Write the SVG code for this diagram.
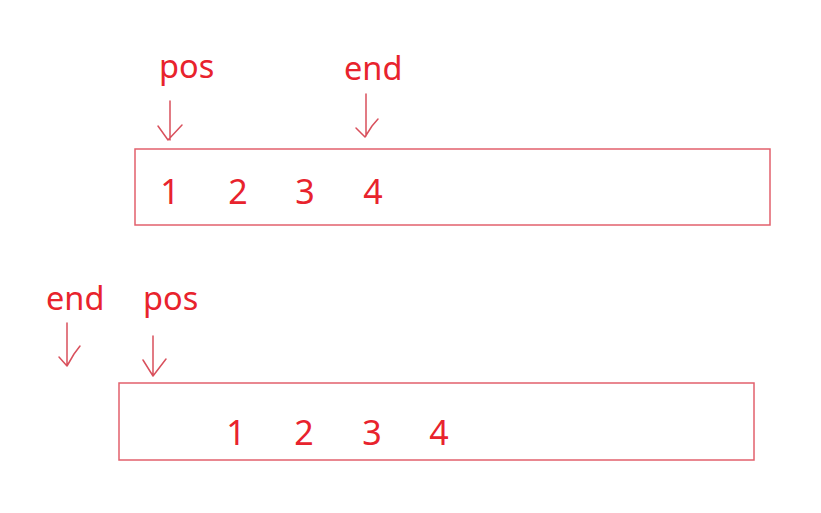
<svg xmlns="http://www.w3.org/2000/svg" width="821" height="513" viewBox="0 0 821 513">
<style>
.box{fill:none;stroke:#e2606c;stroke-width:1.5}
.lbl{font-family:"Noto Sans","Open Sans",sans-serif;font-size:32.5px;fill:#e8232d}
.num{font-family:"Noto Sans","Open Sans",sans-serif;font-size:34px;fill:#e8232d;text-anchor:middle}
.arr{fill:none;stroke:#d9505c;stroke-width:1.5;stroke-linecap:round;stroke-linejoin:round}
</style>
<rect width="821" height="513" fill="#ffffff"/>
<g id="array1">
<rect class="box" x="135" y="149" width="635" height="76"/>
<text class="num" x="170" y="204">1</text>
<text class="num" x="238" y="204">2</text>
<text class="num" x="305" y="204">3</text>
<text class="num" x="373" y="204">4</text>
</g>
<g id="array2">
<rect class="box" x="119" y="383" width="635" height="77"/>
<text class="num" x="236" y="445">1</text>
<text class="num" x="304" y="445">2</text>
<text class="num" x="372" y="445">3</text>
<text class="num" x="439" y="445">4</text>
</g>
<g id="label-pos1"><text class="lbl" x="159" y="78">pos</text></g>
<g id="label-end1"><text class="lbl" x="344" y="80">end</text></g>
<g id="label-end2"><text class="lbl" x="46" y="310">end</text></g>
<g id="label-pos2"><text class="lbl" x="143" y="310">pos</text></g>
<g id="connectors">
<path class="arr" d="M170 101 L170 140 M158 126 L168 140 L182 125"/>
<path class="arr" d="M366 94 L366 136 M356 128 L365 137 L372 126 L378 119"/>
<path class="arr" d="M67 323 L67 366 M59 357 L67 366 L74 354 L80 346"/>
<path class="arr" d="M153 336 L153 376 M143 360 L153 376 L166 359"/>
</g>
</svg>
